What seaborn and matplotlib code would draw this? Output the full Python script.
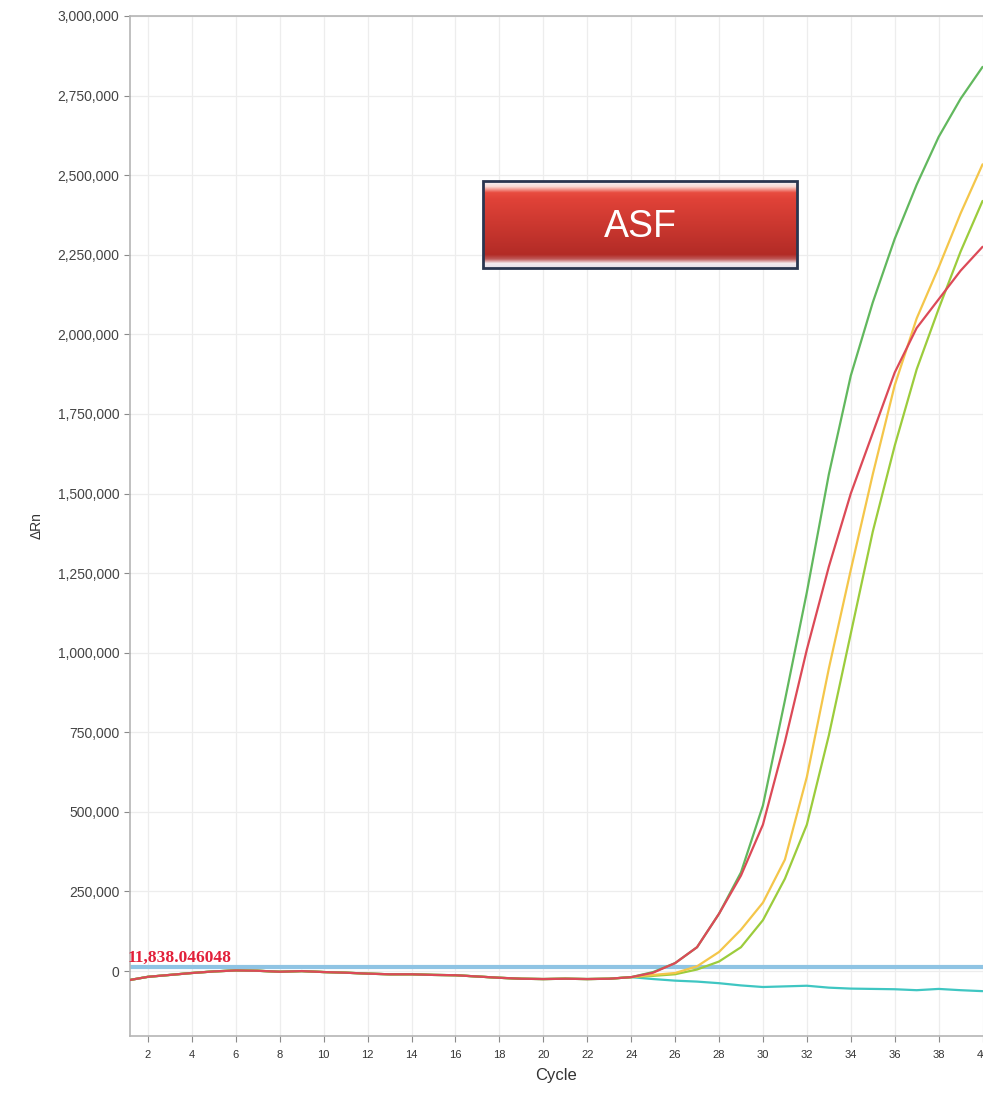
import numpy as np
import pandas as pd
import seaborn as sns
import matplotlib
matplotlib.use("Agg")
import matplotlib.pyplot as plt
from matplotlib.patches import Rectangle

# ---- data (values in thousands of delta Rn) ----
cycles = list(range(1, 41))

baseline = [-30, -18, -12, -6, -1, 2, 1, -2, 0, -3, -5, -8, -10, -10, -12,
            -13, -17, -21, -24, -25, -24, -25, -24, -19]

green1_tail = [-3, 25, 75, 180, 310, 520, 850, 1190, 1560, 1870, 2100, 2300,
               2470, 2620, 2740, 2840]
red_tail = [-5, 25, 75, 180, 300, 460, 720, 1010, 1270, 1500, 1690, 1880,
            2020, 2110, 2200, 2275]
yellow_tail = [-12, -6, 15, 60, 130, 215, 350, 610, 950, 1260, 1560, 1840,
               2050, 2210, 2380, 2534]
green2_tail = [-15, -10, 5, 30, 75, 160, 290, 460, 740, 1060, 1380, 1650,
               1890, 2080, 2260, 2419]
teal_tail = [-25, -30, -33, -38, -45, -50, -48, -46, -52, -55, -56, -57,
             -60, -56, -60, -63]

samples = ["teal", "green2", "yellow", "green1", "red"]
tails = [teal_tail, green2_tail, yellow_tail, green1_tail, red_tail]
palette = {"teal": "#3fc6c2", "green2": "#9ccc3c", "yellow": "#f4c64a",
           "green1": "#62b85e", "red": "#dc4a57"}

threshold = 11838.046048
threshold_label = "11,838.046048"

rows = []
for name, tail in zip(samples, tails):
    for c, v in zip(cycles, baseline + tail):
        rows.append({"Cycle": c, "dRn": v * 1000, "sample": name})
df = pd.DataFrame(rows)

# ---- figure ----
sns.set_style("white")
plt.rcParams["font.family"] = ["Liberation Sans", "DejaVu Sans"]

fig = plt.figure(figsize=(9.83, 11.01), dpi=100)
ax = fig.add_axes([0.1322, 0.059, 0.8678, 0.9265])

ax.grid(True, color="#ededed", linewidth=0.9)
ax.set_axisbelow(True)

sns.lineplot(data=df, x="Cycle", y="dRn", hue="sample", palette=palette,
             linewidth=1.6, legend=False, ax=ax, zorder=3)

ax.axhline(threshold, color="#8fc4e4", linewidth=3, zorder=2)
ax.text(1.05, threshold + 4000, threshold_label, color="#e2203a",
        fontsize=12.5, fontweight="bold", family="Liberation Serif",
        ha="left", va="bottom", zorder=4)

ax.set_xlim(1.18, 40.02)
ax.set_ylim(-204000, 3000000)
ax.set_xticks(range(2, 41, 2))
ax.set_yticks(range(0, 3000001, 250000))
ax.set_yticklabels([f"{v:,}" for v in range(0, 3000001, 250000)])

ax.tick_params(axis="y", labelsize=10, colors="#8a8a8a", labelcolor="#444444",
               length=4, width=0.8, direction="out", left=True)
ax.tick_params(axis="x", labelsize=8, colors="#8a8a8a", labelcolor="#333333",
               length=4, width=0.8, direction="out", bottom=True, pad=6)
for side in ["left", "bottom", "top"]:
    ax.spines[side].set_color("#b5b5b5")
    ax.spines[side].set_linewidth(1.2)
ax.spines["right"].set_visible(False)

ax.set_xlabel("Cycle", fontsize=12, color="#333333", labelpad=6)
ax.set_ylabel("ΔRn", fontsize=10, color="#333333", labelpad=10)

# ---- ASF badge ----
x0, x1, y0, y1 = 0.4138, 0.782, 0.753, 0.838
stops = np.array([0.0, 0.06, 0.13, 0.2, 0.85, 0.9, 0.95, 1.0])
cols = np.array([[0.96, 0.96, 0.98], [0.98, 0.85, 0.83], [0.91, 0.30, 0.25],
                 [0.88, 0.26, 0.22], [0.70, 0.17, 0.15], [0.75, 0.35, 0.35],
                 [0.96, 0.92, 0.94], [0.90, 0.88, 0.92]])
t = np.linspace(0, 1, 120)
grad = np.stack([np.interp(t, stops, cols[:, k]) for k in range(3)], axis=1)
grad = grad[:, None, :]
ax.imshow(grad, extent=[x0, x1, y0, y1], transform=ax.transAxes,
          aspect="auto", zorder=5, interpolation="bilinear")
ax.add_patch(Rectangle((x0, y0), x1 - x0, y1 - y0, transform=ax.transAxes,
                       fill=False, edgecolor="#2a3550", linewidth=2, zorder=6))
ax.text((x0 + x1) / 2, (y0 + y1) / 2 - 0.002, "ASF", transform=ax.transAxes,
        color="white", fontsize=27, ha="center", va="center", zorder=7)
ax.set_xlim(1.18, 40.02)
ax.set_ylim(-204000, 3000000)

fig.savefig("out.png", dpi=100)
